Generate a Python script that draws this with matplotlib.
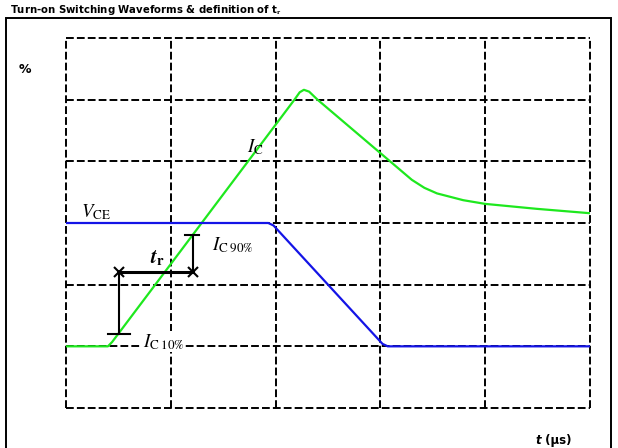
import matplotlib
matplotlib.use("Agg")
import matplotlib.pyplot as plt
from matplotlib.patches import Rectangle

plt.rcParams['mathtext.fontset'] = 'stix'
plt.rcParams['font.family'] = 'DejaVu Sans'

# waveform data (x in grid divisions, y in grid divisions)
ic_t = [0, 0.40, 0.44, 2.18, 2.23, 2.27, 2.32, 2.40, 3.30, 3.42, 3.54, 3.79, 4.00, 4.49, 4.99]
ic_v = [1.0, 1.0, 1.07, 5.0, 5.12, 5.16, 5.13, 5.0, 3.70, 3.57, 3.48, 3.37, 3.31, 3.23, 3.16]

vce_t = [0, 1.93, 1.98, 3.02, 3.07, 5.0]
vce_v = [3.0, 3.0, 2.96, 1.04, 1.0, 1.0]

# t_r definition markers
ic10_level = 1.2
ic90_level = 2.8
tr_level = 2.2
tr_start = 0.51
tr_end = 1.21

W, H = 618, 448
fig = plt.figure(figsize=(W / 100, H / 100), dpi=100)

# outer frame (bottom edge falls outside the picture)
fig.patches.append(Rectangle((6 / W, 1 - 470 / H), 605 / W, 452 / H, transform=fig.transFigure,
                             fill=False, edgecolor='black', linewidth=1.4))

ax = fig.add_axes([66 / W, 1 - 408 / H, 524 / W, 370 / H])
ax.set_xlim(0, 5)
ax.set_ylim(0, 6)
ax.axis('off')

grid_kw = dict(color='black', linewidth=1.4, dashes=(4, 1.6), clip_on=False, zorder=1)
for xv in range(6):
    ax.plot([xv, xv], [0, 6], **grid_kw)
for yv in range(7):
    ax.plot([0, 5], [yv, yv], **grid_kw)

ax.plot(ic_t, ic_v, color='#1ee81e', linewidth=1.6, solid_joinstyle='round', zorder=3)
ax.plot(vce_t, vce_v, color='#1414e6', linewidth=1.6, solid_joinstyle='round', zorder=3)

# t_r construction
ax.plot([tr_start - 0.11, tr_start + 0.10], [ic10_level, ic10_level], color='black', lw=1.5, zorder=4)
ax.plot([tr_start, tr_start], [ic10_level, tr_level], color='black', lw=1.5, zorder=4)
ax.plot([tr_start, tr_end], [tr_level, tr_level], color='black', lw=2.2, zorder=4)
ax.plot([tr_end, tr_end], [tr_level, ic90_level], color='black', lw=1.5, zorder=4)
ax.plot([tr_end - 0.07, tr_end + 0.06], [ic90_level, ic90_level], color='black', lw=1.5, zorder=4)
ax.plot([tr_start, tr_end], [tr_level, tr_level], linestyle='none', marker='x',
        markersize=7, markeredgewidth=1.5, color='black', zorder=5)

lab = dict(fontsize=13.5, color='black', zorder=6)
ax.text(0.14, 3.1, r'$V_{\mathrm{CE}}$', ha='left', va='baseline', **lab)
ax.text(1.73, 4.15, r'$I_{\mathrm{C}}$', ha='left', va='baseline', **lab)
ax.text(1.39, 2.56, r'$I_{\mathrm{C}\;90\%}$', ha='left', va='baseline', **lab)
ax.text(0.73, 0.99, r'$I_{\mathrm{C}\;10\%}$', ha='left', va='baseline',
        bbox=dict(facecolor='white', edgecolor='none', pad=0.5), **lab)
ax.text(0.80, 2.35, r'$\mathbfit{t}_{\mathbf{r}}$', ha='left', va='baseline', fontsize=15, zorder=6)

fig.text(10 / W, 1 - 13 / H, r'Turn-on Switching Waveforms & definition of t$_\mathbf{r}$',
         fontsize=7.3, fontweight='bold', ha='left', va='baseline')
fig.text(19 / W, 1 - 73 / H, '%', fontsize=9, fontweight='bold', ha='left', va='baseline')
fig.text(535 / W, 1 - 444 / H, 't', fontsize=8.5, fontweight='bold', fontstyle='italic',
         ha='left', va='baseline')
fig.text(541 / W, 1 - 444 / H, ' (µs)', fontsize=8.5, fontweight='bold', ha='left', va='baseline')

fig.savefig('out.png', dpi=100)
